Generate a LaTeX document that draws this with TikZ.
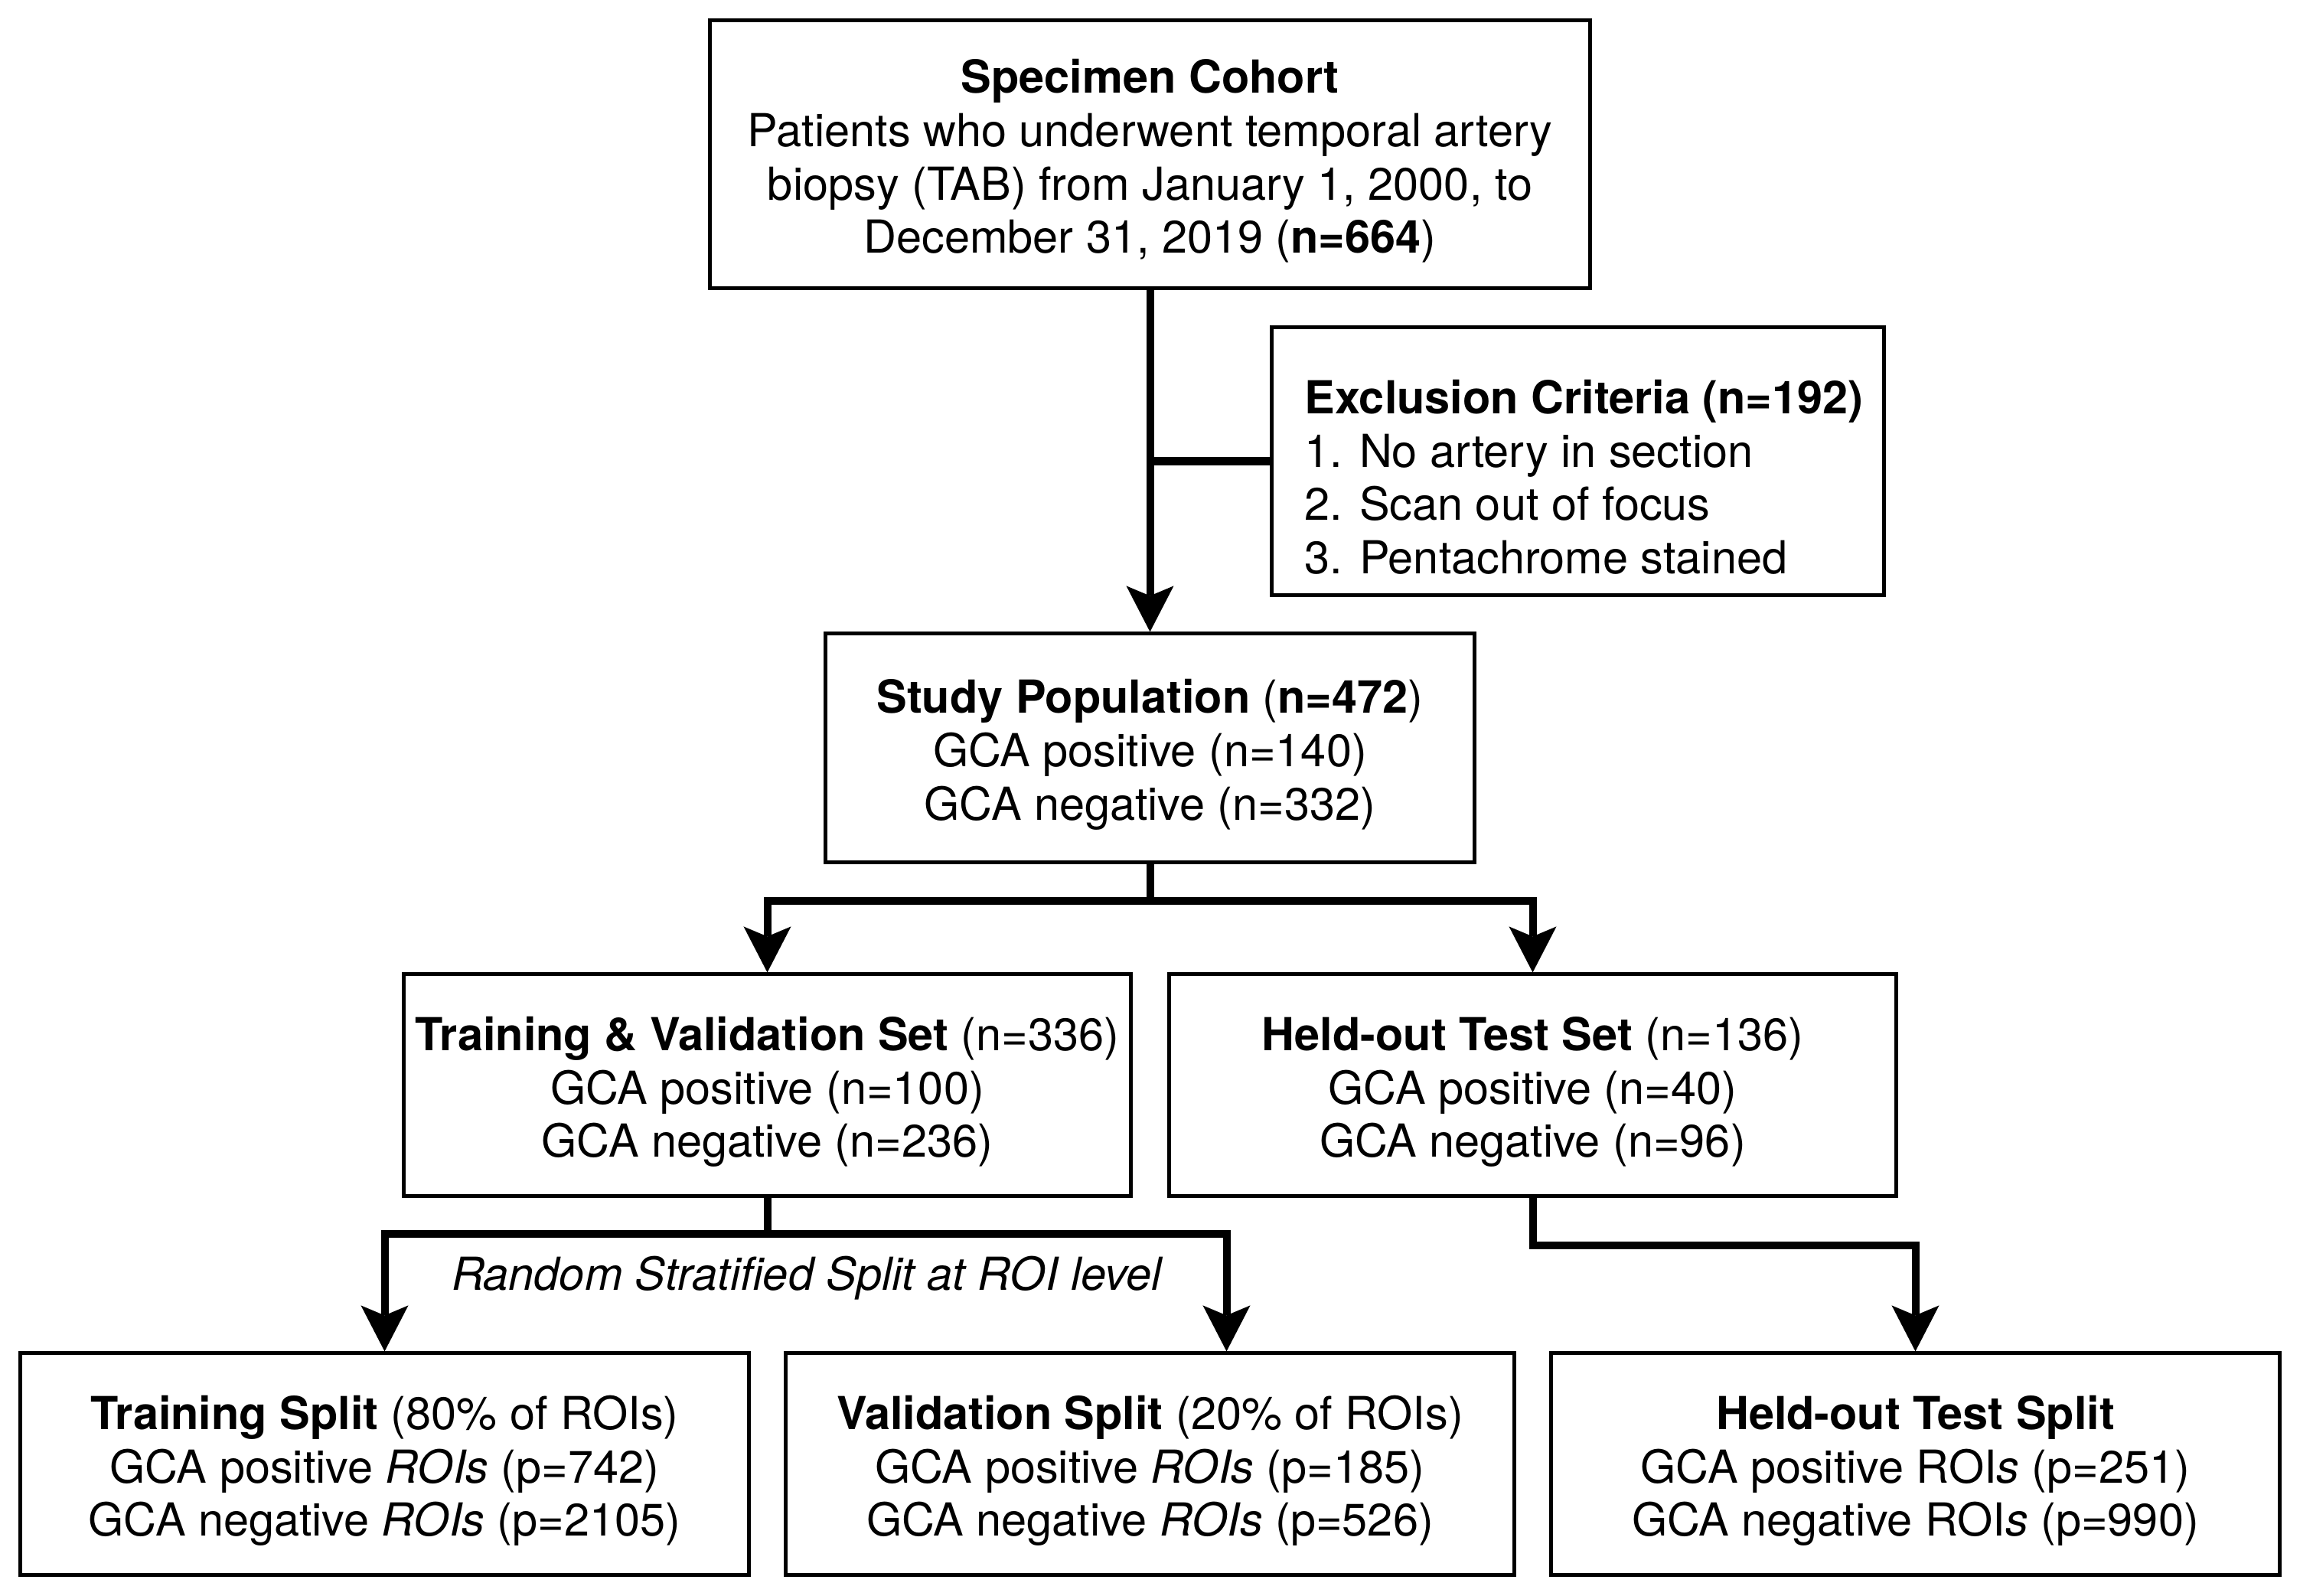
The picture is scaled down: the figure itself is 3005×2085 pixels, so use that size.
\documentclass[tikz,border=0pt]{standalone}
\usepackage{fontspec}
\setmainfont{TeX Gyre Heros}
\usetikzlibrary{arrows.meta,calc}
\newcommand{\toppad}[1][0.62cm]{\rule{0pt}{#1}}

\begin{document}
\begin{tikzpicture}[x=0.01cm, y=-0.01cm,
        box/.style={draw, line width=0.05cm, align=center, inner sep=0pt, font=\fontsize{16.9pt}{19.8pt}\selectfont},
        link/.style={line width=0.1cm},
        flow/.style={link, -{Stealth[length=0.6cm, width=0.62cm, inset=0.13cm, line width=0pt]}}]
            \useasboundingbox (0, 0) rectangle (3005, 2085);

            \node[box, minimum width=11.49cm, minimum height=3.49cm] (cohort) at (1502.5, 201.5)
                {\toppad\textbf{Specimen Cohort}\\Patients who underwent temporal artery\\biopsy (TAB) from January 1, 2000, to\\December 31, 2019 (\textbf{n=664})};
            \node[box, align=left, minimum width=7.99cm, minimum height=3.50cm] (excl) at (2061.5, 602.5)
                {\toppad[0.86cm]\hspace*{0.16cm}\textbf{Exclusion Criteria (n=192)}\\\hspace*{0.16cm}1. No artery in section\\\hspace*{0.16cm}2. Scan out of focus\\\hspace*{0.16cm}3. Pentachrome stained};
            \node[box, minimum width=8.47cm, minimum height=2.98cm] (study) at (1502.5, 977)
                {\toppad\textbf{Study Population} (\textbf{n=472})\\GCA positive (n=140)\\GCA negative (n=332)};

            \node[box, minimum width=9.49cm, minimum height=2.89cm] (trval) at (1002.5, 1417.5)
                {\toppad\textbf{Training \& Validation Set} (n=336)\\GCA positive (n=100)\\GCA negative (n=236)};
            \node[box, minimum width=9.49cm, minimum height=2.89cm] (testset) at (2002.5, 1417.5)
                {\toppad\textbf{Held-out Test Set} (n=136)\\GCA positive (n=40)\\GCA negative (n=96)};

            \node[box, minimum width=9.51cm, minimum height=2.89cm] (trsplit) at (502.5, 1912.5)
                {\toppad\textbf{Training Split} (80\% of ROIs)\\GCA positive \textit{ROIs} (p=742)\\GCA negative \textit{ROIs} (p=2105)};
            \node[box, minimum width=9.51cm, minimum height=2.89cm] (valsplit) at (1502.5, 1912.5)
                {\toppad\textbf{Validation Split} (20\% of ROIs)\\GCA positive \textit{ROIs} (p=185)\\GCA negative \textit{ROIs} (p=526)};
            \node[box, minimum width=9.51cm, minimum height=2.89cm] (hosplit) at (2502.5, 1912.5)
                {\toppad\textbf{Held-out Test Split}\\GCA positive ROI\textit{s} (p=251)\\GCA negative ROI\textit{s} (p=990)};

            %exclusion
            \draw[flow] (cohort.south) -- (study.north);
            \draw[link] (cohort.south |- excl.west) -- (excl.west);

            %first split
            \coordinate (brA) at (1502.5, 1177);
            \draw[link] (study.south) -- (brA);
            \draw[flow] (brA) -| (trval.north);
            \draw[flow] (brA) -| (testset.north);

            %ROI split
            \coordinate (brB) at (1002.5, 1612);
            \coordinate (valin) at ($(valsplit.north) + (100, 0)$);
            \draw[link] (trval.south) -- (brB);
            \draw[flow] (brB) -| (trsplit.north);
            \draw[flow] (brB) -| (valin);
            \node[anchor=base, font=\fontsize{16.9pt}{19.8pt}\selectfont\itshape] (splitlbl) at (1054, 1685) {Random Stratified Split at ROI level};

            %test split
            \coordinate (brC) at (2002.5, 1627);
            \draw[flow] (testset.south) -- (brC) -| (hosplit.north);

\end{tikzpicture}
\end{document}
